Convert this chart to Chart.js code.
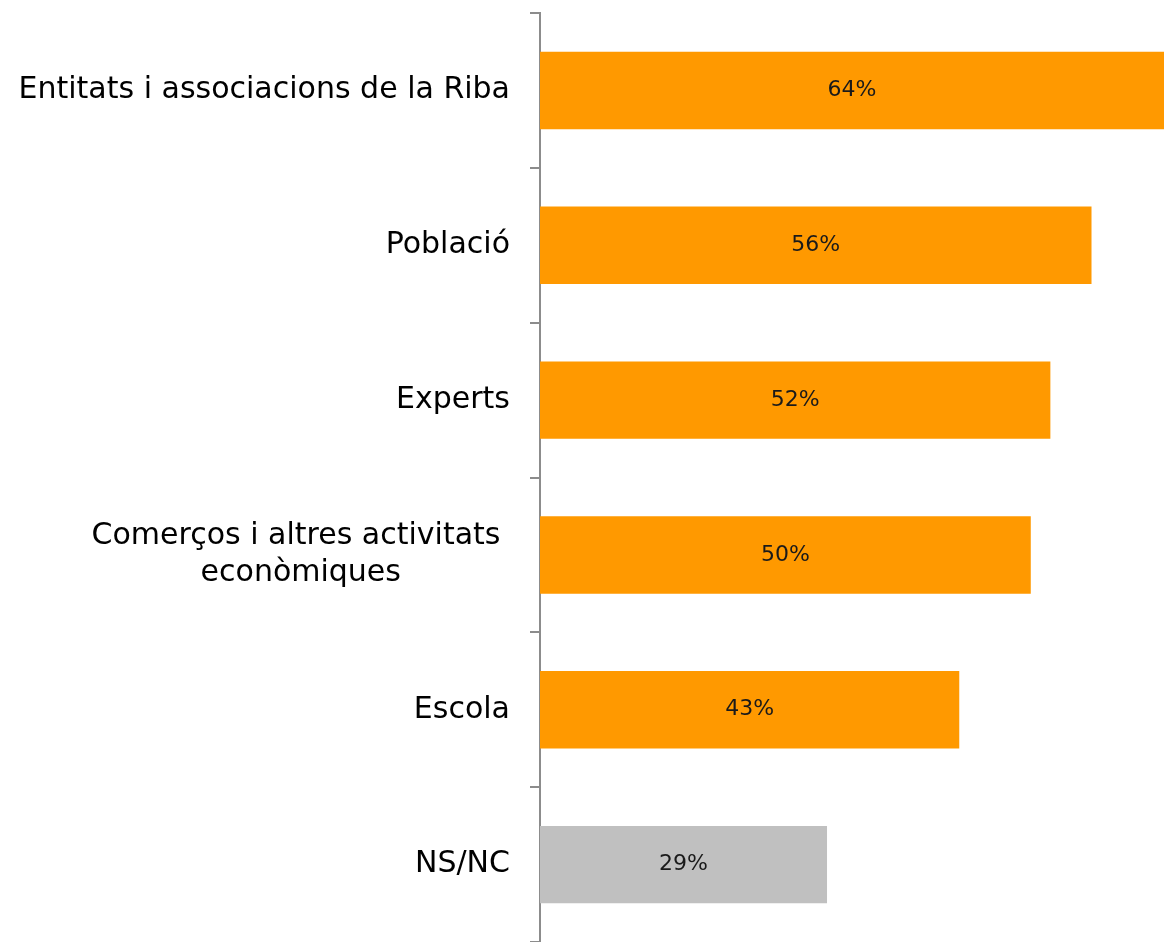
<!DOCTYPE html>
<html>
<head>
<meta charset="utf-8">
<script src="https://cdn.jsdelivr.net/npm/chart.js@4/dist/chart.umd.min.js"></script>
<style>
	html, body { margin: 0; padding: 0; background: #fff; }
	#wrap { width: 1164px; height: 942px; }
</style>
</head>
<body>
<div id="wrap"><canvas id="chart"></canvas></div>
<script>
// Categories - one entry per line of the label
var categories = [
	["Entitats i associacions de la Riba"],
	["Població"],
	["Experts"],
	["Comerços i altres activitats ", "econòmiques"],
	["Escola"],
	["NS/NC"]
];
// Percent values
var values = [63.7, 56.3, 52.1, 50.1, 42.8, 29.3];
var barColors = ["#FF9900", "#FF9900", "#FF9900", "#FF9900", "#FF9900", "#C0C0C0"];

const fontFamily = "'Century Gothic', 'DejaVu Sans', sans-serif";
const axisGray = "#8c8c8c";

// draw category labels ourselves - lines centered within the block, block right aligned
const catLabels = {
	id: 'catLabels',
	afterDraw(chart) {
		let ctx = chart.ctx;
		let yScale = chart.scales.y;
		let right = yScale.right - 30;
		ctx.save();
		ctx.font = "30px " + fontFamily;
		ctx.fillStyle = "#000";
		ctx.textAlign = "center";
		ctx.textBaseline = "middle";
		categories.forEach(function(lines, i) {
			let widest = 0;
			lines.forEach(function(l) { widest = Math.max(widest, ctx.measureText(l).width); });
			let cx = right - widest / 2;
			let lineH = 37;
			let y0 = yScale.getPixelForValue(i) - (lines.length - 1) * lineH / 2;
			lines.forEach(function(l, j) {
				ctx.fillText(l, cx, y0 + j * lineH);
			});
		});
		ctx.restore();
	}
};

// value labels in the middle of each bar
const barLabels = {
	id: 'barLabels',
	afterDatasetsDraw(chart) {
		let ctx = chart.ctx;
		let meta = chart.getDatasetMeta(0);
		ctx.save();
		ctx.font = "22px " + fontFamily;
		ctx.fillStyle = "#1a1a1a";
		ctx.textAlign = "center";
		ctx.textBaseline = "middle";
		meta.data.forEach(function(bar, i) {
			let x = (Math.min(bar.x, chart.chartArea.right) + bar.base) / 2;
			ctx.fillText(Math.round(values[i]) + "%", x, bar.y);
		});
		ctx.restore();
	}
};

new Chart(document.getElementById('chart'), {
	type: 'bar',
	data: {
		labels: categories.map(function(l) { return l.join(' '); }),
		datasets: [{
			data: values,
			backgroundColor: barColors,
			borderWidth: 0,
			barPercentage: 0.5,
			categoryPercentage: 1.0
		}]
	},
	options: {
		indexAxis: 'y',
		responsive: true,
		maintainAspectRatio: false,
		animation: false,
		layout: { padding: { top: 13, bottom: 0, left: 0, right: 0 } },
		plugins: {
			legend: { display: false },
			tooltip: { enabled: false }
		},
		scales: {
			x: {
				display: false,
				min: 0,
				max: 63.7
			},
			y: {
				afterFit: function(scale) { scale.width = 540; },
				ticks: { display: false },
				grid: {
					display: true,
					offset: true,
					drawOnChartArea: false,
					drawTicks: true,
					tickLength: 10,
					color: axisGray,
					lineWidth: 2
				},
				border: { display: true, color: axisGray, width: 2 }
			}
		}
	},
	plugins: [catLabels, barLabels]
});
</script>
</body>
</html>
